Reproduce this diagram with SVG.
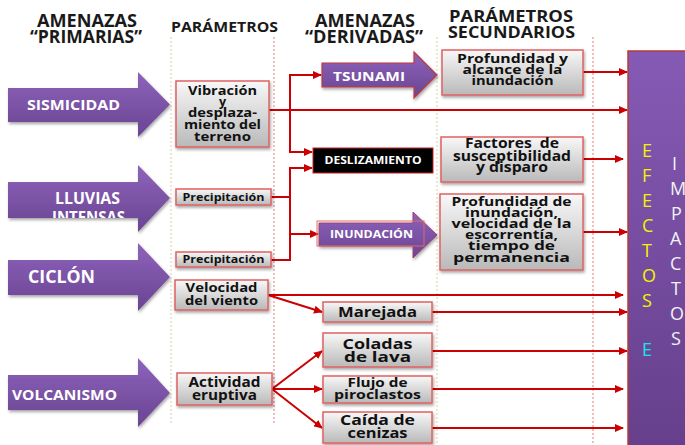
<svg xmlns="http://www.w3.org/2000/svg" width="685" height="445" viewBox="0 0 685 445">
<style>
text{font-family:"Open Sans","DejaVu Sans",sans-serif;font-weight:bold;text-anchor:middle}
.hd{fill:#1a1a1a;font-size:17px}
.bx{fill:url(#gbox);stroke:#e06262;stroke-width:1.5;filter:url(#sh)}
.bt{fill:#111;font-size:12.5px}
.wt{fill:#fff}
.big{fill:url(#gpur);filter:url(#sh)}
.c{fill:none;stroke:#cc0000;stroke-width:2}
.a{marker-end:url(#ar)}
.dl1{stroke:#d8cfa6;stroke-width:1;stroke-dasharray:2,2}
.dl2{stroke:#e47a7a;stroke-width:1;stroke-dasharray:2,2}
.ef{font-weight:normal;font-size:18px;text-anchor:start;fill:#f4f400}
.im{font-weight:normal;font-size:18px;text-anchor:start;fill:#f2f2f2}
</style>
<defs>
<linearGradient id="gbox" x1="0" y1="0" x2="0" y2="1"><stop offset="0" stop-color="#f8f8f8"/><stop offset="1" stop-color="#b9b9b9"/></linearGradient>
<linearGradient id="gpur" x1="0" y1="0" x2="0" y2="1"><stop offset="0" stop-color="#8d63bb"/><stop offset="1" stop-color="#6a4492"/></linearGradient>
<linearGradient id="gpan" x1="0" y1="0" x2="0" y2="1"><stop offset="0" stop-color="#855ab5"/><stop offset="1" stop-color="#663f8c"/></linearGradient>
<filter id="sh" x="-10%" y="-10%" width="130%" height="140%"><feDropShadow dx="1" dy="2" stdDeviation="1.5" flood-color="#000" flood-opacity="0.35"/></filter>
<clipPath id="cl"><rect x="8" y="182" width="130" height="36"/></clipPath>
<marker id="ar" markerUnits="userSpaceOnUse" markerWidth="9" markerHeight="8" refX="8" refY="4" orient="auto"><path d="M0,0 L9,4 L0,8 z" fill="#cc0000"/></marker>
</defs>

<g id="guides">
<line class="dl1" x1="171" y1="37" x2="171" y2="425"/>
<line class="dl2" x1="274" y1="37" x2="274" y2="425"/>
<line class="dl1" x1="437" y1="37" x2="437" y2="445"/>
<line class="dl2" x1="593" y1="37" x2="593" y2="445"/>
</g>

<g id="headers">
<text class="hd" x="87" y="27" textLength="100" lengthAdjust="spacingAndGlyphs">AMENAZAS</text>
<text class="hd" x="86" y="43" textLength="112" lengthAdjust="spacingAndGlyphs">“PRIMARIAS”</text>
<text class="hd" x="224.5" y="32" style="font-size:14px" textLength="107" lengthAdjust="spacingAndGlyphs">PARÁMETROS</text>
<text class="hd" x="365" y="27" textLength="100" lengthAdjust="spacingAndGlyphs">AMENAZAS</text>
<text class="hd" x="364" y="43" textLength="118" lengthAdjust="spacingAndGlyphs">“DERIVADAS”</text>
<text class="hd" x="511" y="22" style="font-size:16px" textLength="124" lengthAdjust="spacingAndGlyphs">PARÁMETROS</text>
<text class="hd" x="511.5" y="38" style="font-size:16px" textLength="127" lengthAdjust="spacingAndGlyphs">SECUNDARIOS</text>
</g>

<g id="connectors">
<path class="c a" d="M269,110 H627"/>
<path class="c a" d="M290,110 V75 H321"/>
<path class="c a" d="M290,110 V152 H312"/>
<path class="c a" d="M271,197 H290 V168 H312"/>
<path class="c" d="M271,260 H290 V197"/>
<path class="c a" d="M290,234 H318"/>
<path class="c a" d="M583,72 H627"/>
<path class="c a" d="M583,159 H623"/>
<path class="c a" d="M583,232 H627"/>
<path class="c a" d="M268,295 H623"/>
<path class="c a" d="M268,295 L322,312"/>
<path class="c a" d="M432,312 H627"/>
<path class="c a" d="M432,351 H627"/>
<path class="c a" d="M432,389 H623"/>
<path class="c a" d="M432,428 H623"/>
<path class="c a" d="M272,389 L322,351"/>
<path class="c a" d="M272,389 H322"/>
<path class="c a" d="M272,389 L322,428"/>
</g>

<g id="sismicidad">
<polygon class="big" points="8,88 138,88 138,72 170,104.5 138,137 138,122 8,122"/>
<text class="wt" x="73.5" y="110" style="font-size:15px" textLength="93" lengthAdjust="spacingAndGlyphs">SISMICIDAD</text>
</g>
<g id="lluvias">
<polygon class="big" points="8,182 138,182 138,165 170,198 138,232 138,218 8,218"/>
<text class="wt" x="87.5" y="204" style="font-size:16px" textLength="65" lengthAdjust="spacingAndGlyphs">LLUVIAS</text>
<text class="wt" x="88.5" y="223" clip-path="url(#cl)" style="font-size:16px" textLength="73" lengthAdjust="spacingAndGlyphs">INTENSAS</text>
</g>
<g id="ciclon">
<polygon class="big" points="8,260 138,260 138,243 170,277 138,311 138,295 8,295"/>
<text class="wt" x="61.5" y="283" style="font-size:17px" textLength="67" lengthAdjust="spacingAndGlyphs">CICLÓN</text>
</g>
<g id="volcanismo">
<polygon class="big" points="8,375 138,375 138,358 170,393 138,427 138,410 8,410"/>
<text class="wt" x="64.5" y="400" style="font-size:15px" textLength="105" lengthAdjust="spacingAndGlyphs">VOLCANISMO</text>
</g>

<g id="vibracion">
<rect class="bx" x="176" y="81" width="93" height="66"/>
<text class="bt" x="222.5" y="95" textLength="69" lengthAdjust="spacingAndGlyphs">Vibración</text>
<text class="bt" x="222.5" y="106">y</text>
<text class="bt" x="222.5" y="117" textLength="69" lengthAdjust="spacingAndGlyphs">desplaza-</text>
<text class="bt" x="222.5" y="129" textLength="77" lengthAdjust="spacingAndGlyphs">miento del</text>
<text class="bt" x="222.5" y="141" textLength="57" lengthAdjust="spacingAndGlyphs">terreno</text>
</g>
<g id="precipitacion1">
<rect class="bx" x="176" y="189" width="95" height="16"/>
<text class="bt" x="223.5" y="201" style="font-size:11px" textLength="82" lengthAdjust="spacingAndGlyphs">Precipitación</text>
</g>
<g id="precipitacion2">
<rect class="bx" x="176" y="252" width="95" height="15"/>
<text class="bt" x="223.5" y="263" style="font-size:11px" textLength="82" lengthAdjust="spacingAndGlyphs">Precipitación</text>
</g>
<g id="velocidad">
<rect class="bx" x="175" y="280" width="93" height="30"/>
<text class="bt" x="221.5" y="292" style="font-size:13px" textLength="72" lengthAdjust="spacingAndGlyphs">Velocidad</text>
<text class="bt" x="221.5" y="305" style="font-size:13px" textLength="73" lengthAdjust="spacingAndGlyphs">del viento</text>
</g>
<g id="actividad">
<rect class="bx" x="177" y="373" width="95" height="32"/>
<text class="bt" x="224.5" y="387" style="font-size:14px" textLength="72" lengthAdjust="spacingAndGlyphs">Actividad</text>
<text class="bt" x="224.5" y="400" style="font-size:14px" textLength="65" lengthAdjust="spacingAndGlyphs">eruptiva</text>
</g>

<g id="tsunami">
<polygon points="322,63 414,63 414,52 437,75 414,98 414,87 322,87" fill="url(#gpur)" stroke="#c03a3a" stroke-width="1.2" filter="url(#sh)"/>
<text class="wt" x="369" y="81" style="font-size:13px" textLength="72" lengthAdjust="spacingAndGlyphs">TSUNAMI</text>
</g>
<g id="deslizamiento">
<rect x="313" y="148" width="120" height="25" fill="#000" stroke="#cc2222" stroke-width="1"/>
<text class="wt" x="373" y="164" style="font-size:11px" textLength="97" lengthAdjust="spacingAndGlyphs">DESLIZAMIENTO</text>
</g>
<g id="inundacion">
<polygon points="319,223 413,223 413,212 437,235 413,258 413,246 319,246" fill="url(#gpur)" stroke="#a0406a" stroke-width="1" filter="url(#sh)"/>
<rect x="317" y="221" width="107" height="25" fill="none" stroke="#e06a6a" stroke-width="1"/>
<text class="wt" x="371.5" y="238" style="font-size:11px" textLength="83" lengthAdjust="spacingAndGlyphs">INUNDACIÓN</text>
</g>
<g id="marejada">
<rect class="bx" x="323" y="302" width="109" height="20"/>
<text class="bt" x="377.5" y="317" style="font-size:15px" textLength="79" lengthAdjust="spacingAndGlyphs">Marejada</text>
</g>
<g id="coladas">
<rect class="bx" x="323" y="333" width="109" height="34"/>
<text class="bt" x="377.5" y="349" style="font-size:15px" textLength="70" lengthAdjust="spacingAndGlyphs">Coladas</text>
<text class="bt" x="377.5" y="362" style="font-size:15px" textLength="67" lengthAdjust="spacingAndGlyphs">de lava</text>
</g>
<g id="flujo">
<rect class="bx" x="323" y="376" width="109" height="27"/>
<text class="bt" x="377.5" y="387" textLength="60" lengthAdjust="spacingAndGlyphs">Flujo de</text>
<text class="bt" x="377.5" y="399" textLength="87" lengthAdjust="spacingAndGlyphs">piroclastos</text>
</g>
<g id="caida">
<rect class="bx" x="323" y="412" width="109" height="31"/>
<text class="bt" x="377.5" y="425" style="font-size:15px" textLength="75" lengthAdjust="spacingAndGlyphs">Caída de</text>
<text class="bt" x="377.5" y="438" style="font-size:15px" textLength="60" lengthAdjust="spacingAndGlyphs">cenizas</text>
</g>

<g id="profundidad-alcance">
<rect class="bx" x="442" y="50" width="141" height="45"/>
<text class="bt" x="512.5" y="63" textLength="111" lengthAdjust="spacingAndGlyphs">Profundidad y</text>
<text class="bt" x="512.5" y="74" textLength="100" lengthAdjust="spacingAndGlyphs">alcance de la</text>
<text class="bt" x="512.5" y="85" textLength="82" lengthAdjust="spacingAndGlyphs">inundación</text>
</g>
<g id="factores">
<rect class="bx" x="441" y="137" width="142" height="45"/>
<text class="bt" x="512" y="148" style="font-size:13.5px;white-space:pre" textLength="94" lengthAdjust="spacingAndGlyphs">Factores  de</text>
<text class="bt" x="512" y="161" style="font-size:13.5px" textLength="118" lengthAdjust="spacingAndGlyphs">susceptibilidad</text>
<text class="bt" x="512" y="172" style="font-size:13.5px" textLength="72" lengthAdjust="spacingAndGlyphs">y disparo</text>
</g>
<g id="profundidad-inundacion">
<rect class="bx" x="440" y="194" width="143" height="76"/>
<text class="bt" x="511.5" y="206" textLength="120" lengthAdjust="spacingAndGlyphs">Profundidad de</text>
<text class="bt" x="511.5" y="217" textLength="93" lengthAdjust="spacingAndGlyphs">inundación,</text>
<text class="bt" x="511.5" y="228" textLength="120" lengthAdjust="spacingAndGlyphs">velocidad de la</text>
<text class="bt" x="511.5" y="239" textLength="93" lengthAdjust="spacingAndGlyphs">escorrentía,</text>
<text class="bt" x="511.5" y="250" textLength="87" lengthAdjust="spacingAndGlyphs">tiempo de</text>
<text class="bt" x="511.5" y="262" textLength="117" lengthAdjust="spacingAndGlyphs">permanencia</text>
</g>

<g id="efectos-impactos">
<rect x="628" y="51" width="62" height="396" fill="url(#gpan)" stroke="#b83a3a" stroke-width="1.5"/>
<text class="ef" x="642" y="157">E</text>
<text class="ef" x="642" y="182">F</text>
<text class="ef" x="642" y="207">E</text>
<text class="ef" x="642" y="232">C</text>
<text class="ef" x="642" y="257">T</text>
<text class="ef" x="642" y="282">O</text>
<text class="ef" x="642" y="307">S</text>
<text class="ef" x="642" y="356" style="fill:#18e4f0">E</text>
<text class="im" x="672" y="170">I</text>
<text class="im" x="670" y="195">M</text>
<text class="im" x="671" y="220">P</text>
<text class="im" x="670" y="245">A</text>
<text class="im" x="670" y="270">C</text>
<text class="im" x="671" y="295">T</text>
<text class="im" x="670" y="320">O</text>
<text class="im" x="671" y="345">S</text>
</g>
</svg>
